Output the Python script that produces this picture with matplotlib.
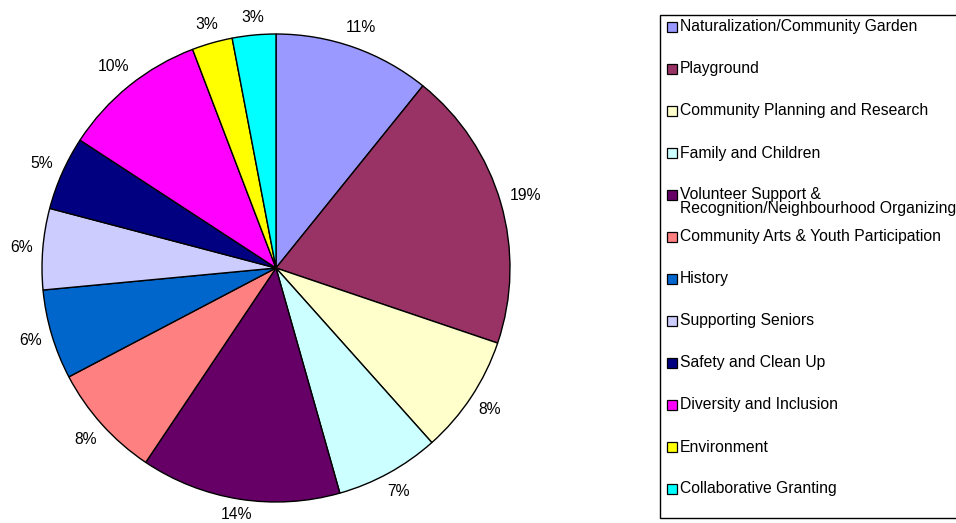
import matplotlib
matplotlib.use("Agg")
import numpy as np
import matplotlib.pyplot as plt
from matplotlib.patches import Rectangle

categories = [
    "Naturalization/Community Garden",
    "Playground",
    "Community Planning and Research",
    "Family and Children",
    "Volunteer Support &\nRecognition/Neighbourhood Organizing",
    "Community Arts & Youth Participation",
    "History",
    "Supporting Seniors",
    "Safety and Clean Up",
    "Diversity and Inclusion",
    "Environment",
    "Collaborative Granting",
]
values = [10.8, 19.4, 8.2, 7.2, 13.8, 7.9, 6.2, 5.6, 5.1, 10.0, 2.8, 3.0]
colors = ["#9999FF", "#993366", "#FFFFCC", "#CCFFFF", "#660066", "#FF8080",
          "#0066CC", "#CCCCFF", "#000080", "#FF00FF", "#FFFF00", "#00FFFF"]

plt.rcParams['font.family'] = ['Liberation Sans', 'DejaVu Sans']
FS = 11.3

W, H = 956, 523
fig = plt.figure(figsize=(W / 100, H / 100), dpi=100)
fig.patch.set_facecolor("white")

cx, cy, r = 276, 268, 234
ax = fig.add_axes([(cx - r) / W, (H - cy - r) / H, 2 * r / W, 2 * r / H])
wedges, texts, autotexts = ax.pie(
    values, colors=colors, startangle=90, counterclock=False,
    autopct='%.0f%%', pctdistance=1.1, radius=1.0,
    wedgeprops=dict(edgecolor="black", linewidth=1.0),
    textprops=dict(fontsize=FS, color="black"))
ax.set_xlim(-1, 1)
ax.set_ylim(-1, 1)
ax.set_aspect("equal")
ax.axis("off")

# Excel-like label placement: box just outside the rim
fig.canvas.draw()
renderer = fig.canvas.get_renderer()
gap = 9.0
for w, t in zip(wedges, autotexts):
    ang = np.deg2rad((w.theta1 + w.theta2) / 2.0)
    c, s = np.cos(ang), np.sin(ang)
    bb = t.get_window_extent(renderer)
    ext = abs(c) * bb.width / 2 + abs(s) * bb.height / 2
    d = (r + gap + ext) / r
    x, y = d * c, d * s
    # keep the label inside the figure (pixel units relative to centre)
    ymin = -((H - cy) - 1 - bb.height / 2) / r
    ymax = (cy - 1 - bb.height / 2) / r
    y = min(max(y, ymin), ymax)
    t.set_position((x, y))
    t.set_ha("center")
    t.set_va("center")

# Legend box (manually laid out)
lx0, ly0, ly1 = 660, 15, 518
fig.add_artist(Rectangle((lx0 / W, 1 - ly1 / H), (W + 10 - lx0) / W, (ly1 - ly0) / H,
                         transform=fig.transFigure, facecolor="white",
                         edgecolor="black", linewidth=1.0, clip_on=False))
y = 27
for lab, col in zip(categories, colors):
    sq = 10
    fig.add_artist(Rectangle((667 / W, 1 - (y + sq / 2) / H), sq / W, sq / H,
                             transform=fig.transFigure, facecolor=col,
                             edgecolor="black", linewidth=0.9))
    lines = lab.split("\n")
    for k, ln in enumerate(lines):
        fig.text(680 / W, 1 - (y + 14 * k) / H, ln, fontsize=FS,
                 va="center", ha="left")
    y += 42

fig.savefig("out.png", dpi=100, facecolor="white")
